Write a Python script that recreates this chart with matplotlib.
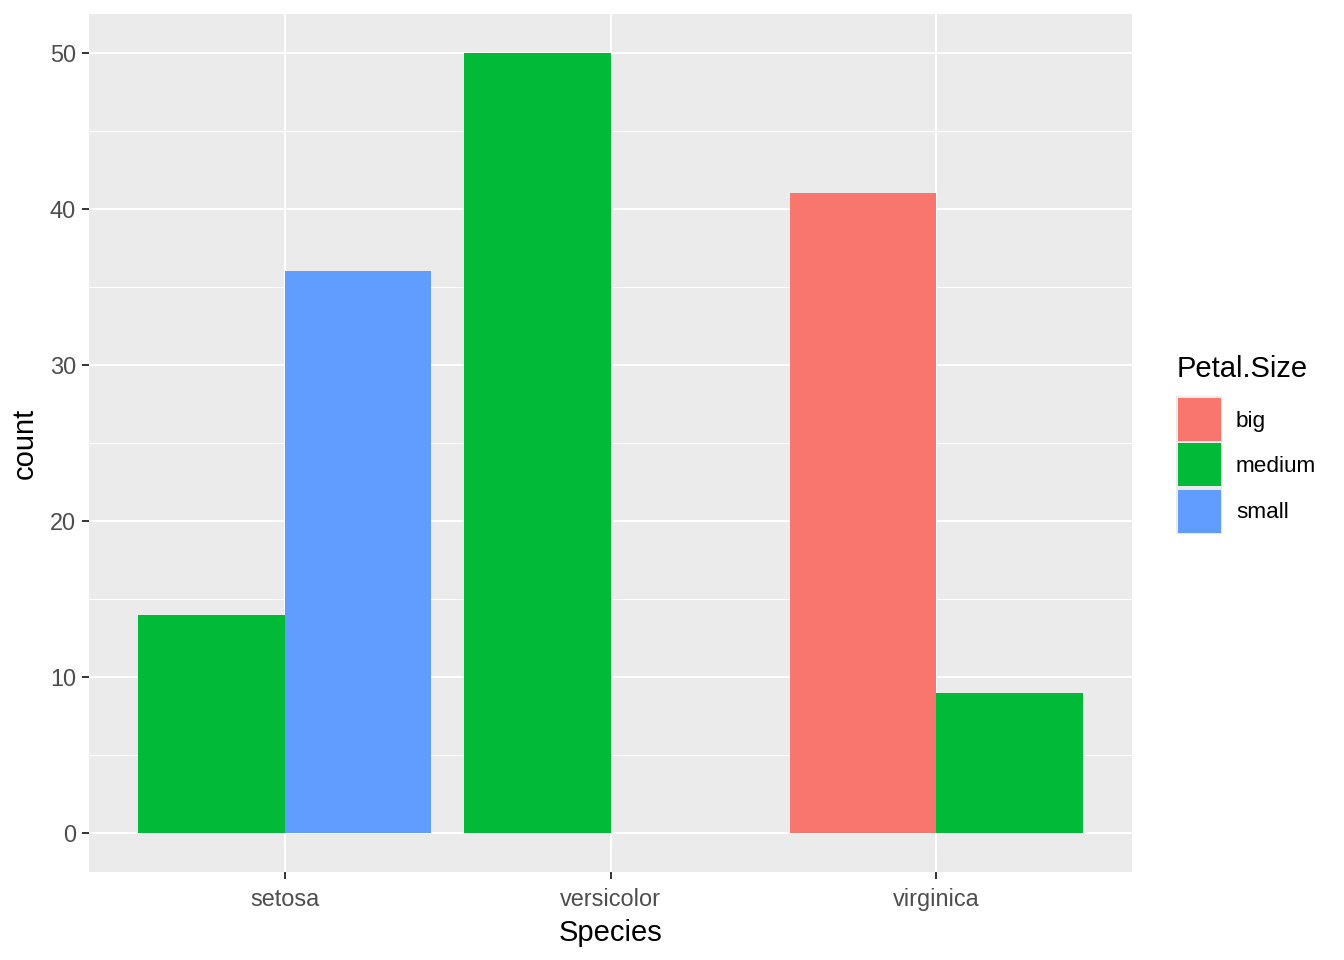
import numpy as np
import matplotlib.pyplot as plt
from matplotlib.patches import Rectangle

plt.rcParams['font.family'] = ['Liberation Sans', 'DejaVu Sans']

species = ['setosa', 'versicolor', 'virginica']
levels = ['big', 'medium', 'small']
counts = {
    'big':    [0, 0, 41],
    'medium': [14, 50, 9],
    'small':  [36, 0, 0],
}
colors = {'big': '#F8766D', 'medium': '#00BA38', 'small': '#619CFF'}

fig = plt.figure(figsize=(13.44, 9.6), dpi=100)
ax = fig.add_axes([89/1344, 1-872/960, (1132-89)/1344, (872-14)/960])
ax.set_facecolor('#EBEBEB')

# dodge: two slots per species, filled in level order
nslot = 2
total_w = 0.9
w = total_w / nslot
x = np.arange(1, len(species)+1)
for i, sp in enumerate(species):
    present = [lv for lv in levels if counts[lv][i] > 0]
    for j, lv in enumerate(present):
        left = x[i] - total_w/2 + j*w
        ax.bar(left, counts[lv][i], width=w, align='edge', color=colors[lv],
               linewidth=0, zorder=3)

ax.set_xlim(0.4, 3.6)
ax.set_ylim(-2.5, 52.5)
ax.set_xticks(x)
ax.set_xticklabels(species)
ax.set_yticks([0, 10, 20, 30, 40, 50])
ax.set_yticks([5, 15, 25, 35, 45], minor=True)

ax.grid(True, which='major', color='white', linewidth=1.5, zorder=1)
ax.grid(True, which='minor', axis='y', color='white', linewidth=0.75, zorder=1)
ax.set_axisbelow(True)
for s in ax.spines.values():
    s.set_visible(False)

ax.tick_params(which='major', length=5.3, width=1.4, color='#333333',
               labelcolor='#4D4D4D', labelsize=16.9, pad=4.2)
ax.tick_params(axis='x', which='major', pad=6.0)
ax.tick_params(which='minor', length=0)

ax.set_xlabel('Species', fontsize=21, labelpad=6)
ax.set_ylabel('count', fontsize=21, labelpad=8)

# legend
fig.text(1177/1344, 1-369/960, 'Petal.Size', fontsize=21, va='center', ha='left')
fig.patches.append(Rectangle((1176/1344, 1-534/960), 46/1344, 138/960,
                             transform=fig.transFigure, facecolor='#EBEBEB',
                             linewidth=0))
for k, lv in enumerate(levels):
    ytop = 396 + k*46
    fig.patches.append(Rectangle((1177.5/1344, 1-(ytop+44.5)/960), 43/1344, 43/960,
                                 transform=fig.transFigure, facecolor=colors[lv],
                                 linewidth=0))
    fig.text(1236/1344, 1-(ytop+25)/960, lv, fontsize=16.2, va='center', ha='left')

fig.savefig('out.png', dpi=100)
